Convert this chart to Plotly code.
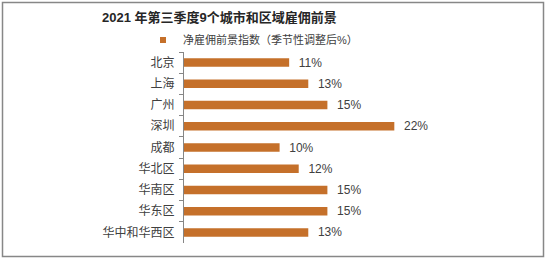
import plotly.graph_objects as go

categories = ["北京", "上海", "广州", "深圳", "成都", "华北区", "华南区", "华东区", "华中和华西区"]
values = [0.11, 0.13, 0.15, 0.22, 0.10, 0.12, 0.15, 0.15, 0.13]
series_name = "净雇佣前景指数（季节性调整后%）"
title_text = "2021 年第三季度9个城市和区域雇佣前景"

W, H = 547, 260
L, R, T, B = 184, 124, 52, 17
BAR = "#C5702A"
FONT = "Liberation Sans, Arial, Noto Sans CJK SC, sans-serif"

def px_x(p):
    return (p - L) / (W - L - R)

def px_y(p):
    return 1 - (p - T) / (H - T - B)

fig = go.Figure()
fig.add_trace(go.Bar(
    x=values, y=categories, orientation="h",
    marker=dict(color=BAR, line=dict(width=0)),
    width=0.4,
    texttemplate="  %{x:.0%}", textposition="outside", constraintext="none",
    textfont=dict(size=12, color="#404040", family=FONT),
    cliponaxis=False, showlegend=False, hoverinfo="skip",
))
fig.add_trace(go.Scatter(
    x=[None], y=[None], mode="markers", name=series_name,
    marker=dict(symbol="square", size=6, color=BAR),
    showlegend=True,
))

fig.update_layout(
    width=W, height=H,
    margin=dict(l=L, r=R, t=T, b=B),
    paper_bgcolor="white", plot_bgcolor="white",
    font=dict(family=FONT, size=12, color="#404040"),
    title=dict(text="<b>" + title_text + "</b>", x=102 / W, xanchor="left",
               y=1 - 17 / H, yanchor="middle",
               font=dict(size=13, color="#262626", family=FONT)),
    legend=dict(orientation="h", x=px_x(143), xanchor="left",
                y=px_y(40), yanchor="middle",
                font=dict(size=11, color="#404040", family=FONT),
                bgcolor="rgba(0,0,0,0)", borderwidth=0,
                itemwidth=30, tracegroupgap=0),
    xaxis=dict(range=[0, 0.25], visible=False, showgrid=False, zeroline=False),
    yaxis=dict(type="category", autorange="reversed",
               showline=True, linecolor="#868686", linewidth=1,
               ticks="outside", ticklen=4, tickcolor="#868686",
               tickson="boundaries", ticklabelstandoff=6,
               tickfont=dict(size=12, color="#404040", family=FONT),
               showgrid=False, zeroline=False),
    shapes=[dict(type="rect", xref="paper", yref="paper",
                 x0=px_x(2.5), x1=px_x(543.5), y0=px_y(2.5), y1=px_y(256.5),
                 line=dict(color="#878787", width=1.5), layer="below")],
)

fig.write_html("out.html")
